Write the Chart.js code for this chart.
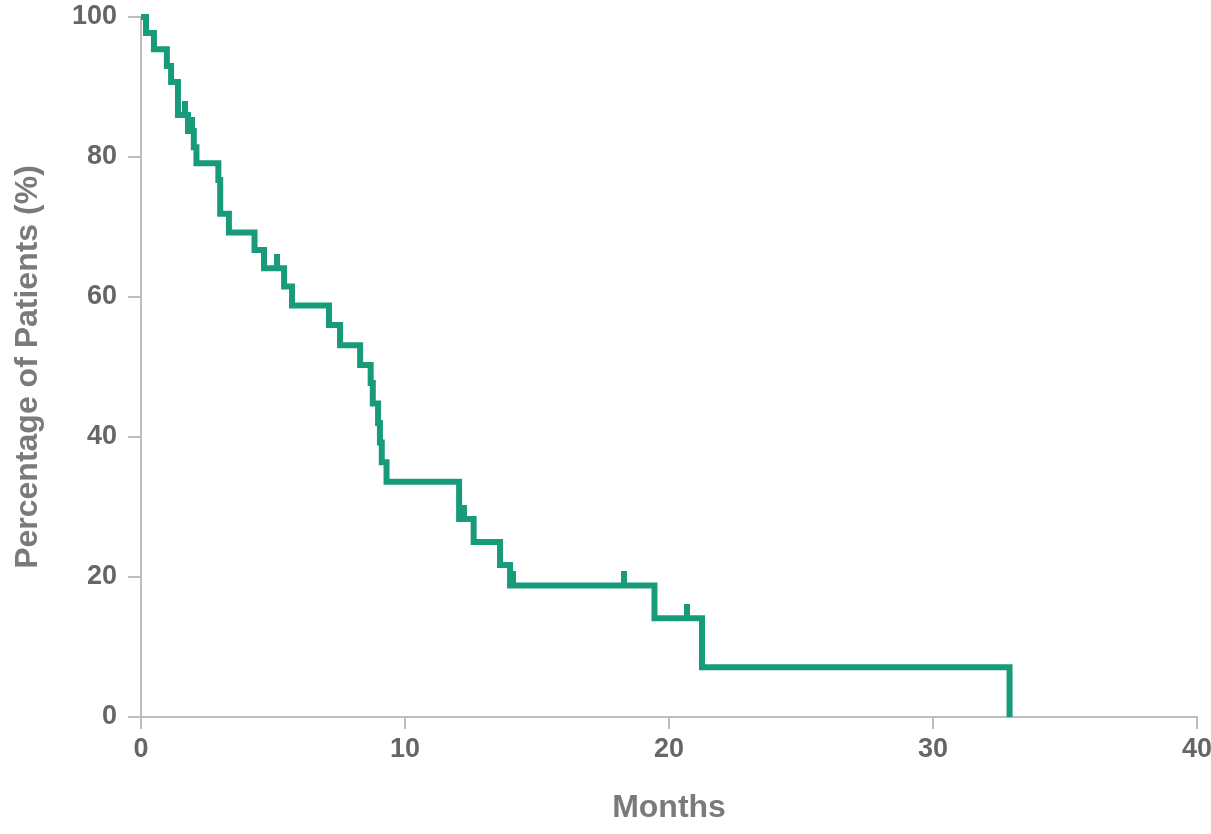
<!DOCTYPE html>
<html>
<head>
<meta charset="utf-8">
<script src="https://cdn.jsdelivr.net/npm/chart.js@4/dist/chart.umd.min.js"></script>
<style>
  html, body { margin: 0; padding: 0; background: #fff; }
  #wrap { width: 1211px; height: 834px; position: relative; }
</style>
</head>
<body>
<div id="wrap"><canvas id="km"></canvas></div>
<script>
// Curva de supervivencia (tiempos de evento y % de pacientes)
var kmTimes = [0, 0.19, 0.49, 0.98, 1.14, 1.40, 1.78, 2.00, 2.10, 2.93, 3.00, 3.33, 4.30, 4.66,
  5.42, 5.72, 7.12, 7.54, 8.30, 8.70, 8.78, 8.98, 9.05, 9.12, 9.30, 12.05, 12.60, 13.60,
  13.98, 19.45, 21.25, 32.90];
var kmSurvival = [100, 97.7, 95.4, 93.0, 90.7, 86.0, 83.7, 81.4, 79.1, 76.7, 71.9, 69.2, 66.7, 64.1,
  61.5, 58.8, 56.0, 53.1, 50.3, 47.7, 44.8, 42.0, 39.2, 36.4, 33.6, 28.3, 25.0, 21.7,
  18.8, 14.1, 7.1, 0];

// Pacientes censurados
var censorTimes = [1.68, 1.92, 5.15, 12.25, 14.10, 18.30, 20.70];
var censorSurvival = [86.0, 83.7, 64.1, 28.3, 18.8, 18.8, 14.1];

// Ejes
var xTicks = [0, 10, 20, 30, 40];
var yTicks = [0, 20, 40, 60, 80, 100];

var GREEN = '#179b7a';
var AXIS = '#bdbdbd';

// Marca de censura: solo la mitad superior del trazo vertical
function censorMark() {
  var c = document.createElement('canvas');
  c.width = 6;
  c.height = 28;
  var g = c.getContext('2d');
  g.fillStyle = GREEN;
  g.fillRect(0, 0, 6, 14);
  return c;
}

var curve = kmTimes.map(function(t, i) { return { x: t, y: kmSurvival[i] }; });
var censored = censorTimes.map(function(t, i) { return { x: t, y: censorSurvival[i] }; });

var tickFont = { family: "'Liberation Sans', Arial, sans-serif", size: 27, weight: 'bold' };
var titleFont = { family: "'Liberation Sans', Arial, sans-serif", size: 32, weight: 'bold' };

new Chart(document.getElementById('km'), {
  type: 'scatter',
  data: {
    datasets: [{
      type: 'line',
      data: curve,
      borderColor: GREEN,
      borderWidth: 6,
      stepped: 'before',
      pointRadius: 0,
      fill: false,
      clip: false,
      borderCapStyle: 'butt',
      borderJoinStyle: 'miter'
    }, {
      data: censored,
      pointStyle: censorMark(),
      pointRadius: 7,
      clip: false
    }]
  },
  options: {
    responsive: true,
    maintainAspectRatio: false,
    animation: false,
    layout: { padding: { top: 17, right: 14, left: 0, bottom: 0 } },
    plugins: {
      legend: { display: false },
      tooltip: { enabled: false }
    },
    scales: {
      x: {
        type: 'linear',
        min: 0,
        max: 40,
        afterBuildTicks: function(scale) {
          scale.ticks = xTicks.map(function(v) { return { value: v }; });
        },
        afterFit: function(scale) {
          scale.height = 117;
          scale.paddingLeft = 0;
          scale.paddingRight = 0;
        },
        grid: { drawOnChartArea: false, drawTicks: true, tickLength: 12, color: AXIS, lineWidth: 2 },
        border: { color: AXIS, width: 2 },
        ticks: { color: '#666', font: tickFont, padding: 4, maxRotation: 0 },
        title: { display: true, text: 'Months', color: '#7a7a7a', font: titleFont, padding: { top: 0, bottom: 7 } }
      },
      y: {
        type: 'linear',
        min: 0,
        max: 100,
        afterBuildTicks: function(scale) {
          scale.ticks = yTicks.map(function(v) { return { value: v }; });
        },
        afterFit: function(scale) {
          scale.width = 141;
          scale.paddingTop = 0;
          scale.paddingBottom = 0;
        },
        grid: { drawOnChartArea: false, drawTicks: true, tickLength: 13, color: AXIS, lineWidth: 2 },
        border: { color: AXIS, width: 2 },
        ticks: { color: '#666', font: tickFont, padding: 11 },
        title: { display: true, text: 'Percentage of Patients (%)', color: '#7a7a7a', font: titleFont, padding: { top: 9, bottom: 0 } }
      }
    }
  }
});
</script>
</body>
</html>
